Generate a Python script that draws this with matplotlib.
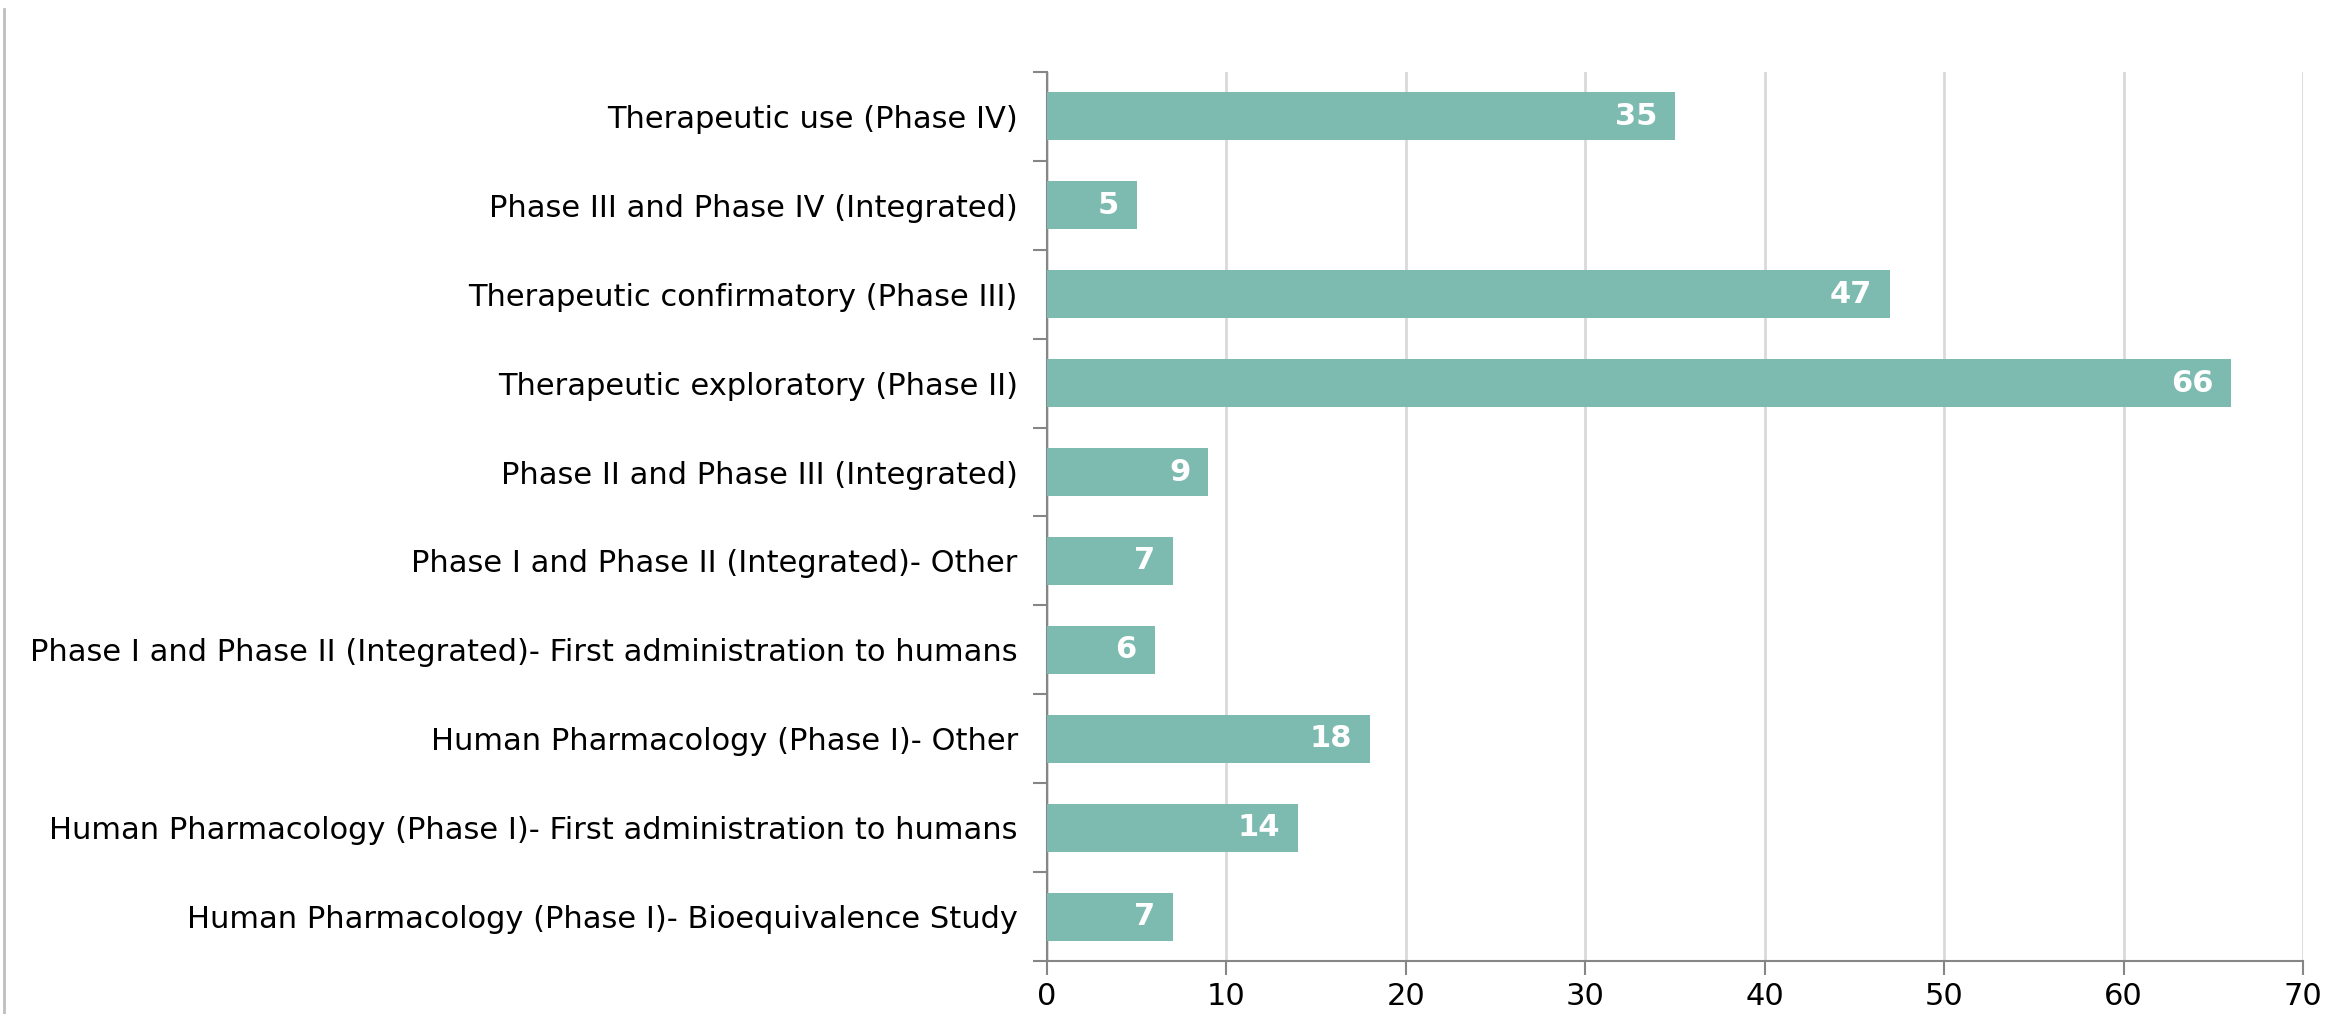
import matplotlib.pyplot as plt
from matplotlib.lines import Line2D

# trial phases, listed bottom to top as drawn
categories = [
    "Human Pharmacology (Phase I)- Bioequivalence Study",
    "Human Pharmacology (Phase I)- First administration to humans",
    "Human Pharmacology (Phase I)- Other",
    "Phase I and Phase II (Integrated)- First administration to humans",
    "Phase I and Phase II (Integrated)- Other",
    "Phase II and Phase III (Integrated)",
    "Therapeutic exploratory (Phase II)",
    "Therapeutic confirmatory (Phase III)",
    "Phase III and Phase IV (Integrated)",
    "Therapeutic use (Phase IV)",
]
counts = [7, 14, 18, 6, 7, 9, 66, 47, 5, 35]
xticks = [0, 10, 20, 30, 40, 50, 60, 70]

bar_color = "#7DBBB1"
axis_color = "#868686"
grid_color = "#D9D9D9"
text_color = "#000000"

plt.rcParams["font.family"] = "DejaVu Sans"

fig = plt.figure(figsize=(23.26, 10.14), dpi=100)
ax = fig.add_axes([1047 / 2326, 1 - 961 / 1014, (2303 - 1047) / 2326, (961 - 72) / 1014])

y = range(len(categories))
bars = ax.barh(y, counts, height=0.54, color=bar_color, zorder=3)

for b, v in zip(bars, counts):
    ax.text(b.get_width() - 1.0, b.get_y() + b.get_height() / 2, str(v),
            ha="right", va="center", color="white", fontsize=22,
            fontweight="bold", zorder=4)

ax.set_xlim(0, 70)
ax.set_ylim(-0.5, len(categories) - 0.5)
ax.set_xticks(xticks)
ax.set_xticklabels([str(t) for t in xticks], fontsize=22, color=text_color)
ax.set_yticks(list(y))
ax.set_yticklabels(categories, fontsize=22, color=text_color)
# category separator ticks like Excel
ax.set_yticks([i - 0.5 for i in range(len(categories) + 1)], minor=True)
ax.tick_params(axis="y", which="major", length=0, pad=21)
ax.tick_params(axis="y", which="minor", length=10, color=axis_color, width=1.5)
ax.tick_params(axis="x", length=10, color=axis_color, width=1.5, pad=5)

ax.grid(axis="x", color=grid_color, linewidth=2, zorder=0)
for s in ["top", "right"]:
    ax.spines[s].set_visible(False)
for s in ["left", "bottom"]:
    ax.spines[s].set_color(axis_color)
    ax.spines[s].set_linewidth(1.5)

# thin frame line at the far left of the image
fig.add_artist(Line2D([3.5 / 2326, 3.5 / 2326], [0, 1 - 9 / 1014],
                      transform=fig.transFigure, color="#BFBFBF", linewidth=2))

plt.savefig("out.png", dpi=100)
